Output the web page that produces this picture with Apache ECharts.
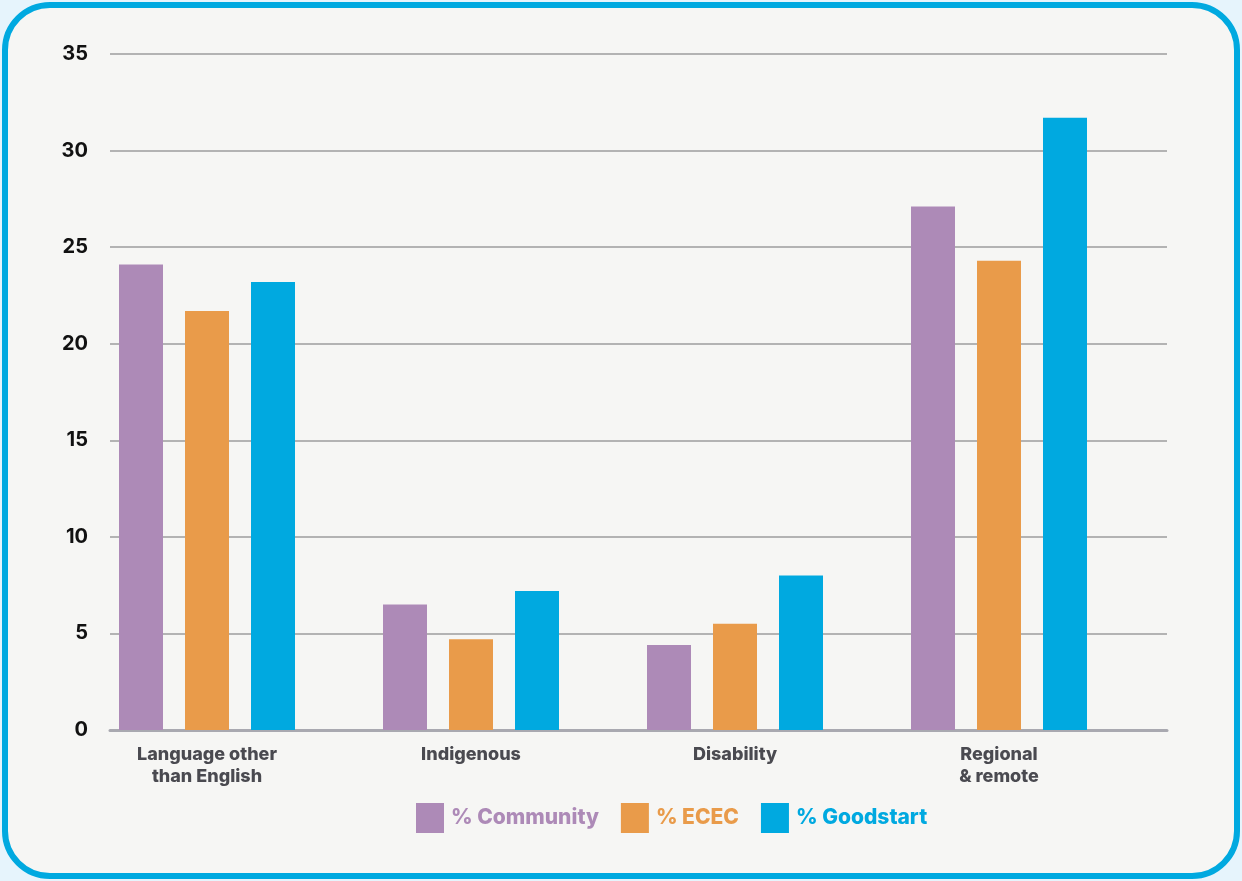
<!DOCTYPE html>
<html>
<head>
<meta charset="utf-8">
<script src="https://cdn.jsdelivr.net/npm/echarts@6/dist/echarts.min.js"></script>
<style>
  html, body { margin: 0; padding: 0; background: #e6f4fc; }
  #chart { width: 1242px; height: 881px; }
</style>
</head>
<body>
<div id="chart"></div>
<script>
var categories = ['Language other\nthan English', 'Indigenous', 'Disability', 'Regional\n& remote'];
var seriesNames = ['% Community', '% ECEC', '% Goodstart'];
var community = [24.1, 6.5, 4.4, 27.1];
var ecec = [21.7, 4.7, 5.5, 24.3];
var goodstart = [23.2, 7.2, 8.0, 31.7];
var colors = ['#ad8ab7', '#e99b4a', '#00a9e0'];

var chart = echarts.init(document.getElementById('chart'));
var font = 'Inter, "Open Sans", sans-serif';

function barSeries(name, data, color) {
  return {
    name: name,
    type: 'bar',
    xAxisIndex: 1,
    yAxisIndex: 1,
    data: data,
    barWidth: 44,
    barGap: '50%',
    itemStyle: { color: color },
    z: 3
  };
}

var option = {
  backgroundColor: '#e6f4fc',
  animation: false,
  graphic: [{
    type: 'rect',
    shape: { x: 5, y: 5, width: 1232, height: 871, r: 45 },
    style: { fill: '#f6f6f4', stroke: '#00a9e0', lineWidth: 6 },
    z: -10
  }],
  grid: [
    { left: 110, right: 75, top: 54, bottom: 151 },
    { left: 75, right: 111, top: 54, bottom: 151 }
  ],
  legend: {
    top: 803,
    left: 416,
    padding: 0,
    itemWidth: 28,
    itemHeight: 30,
    itemGap: 22,
    icon: 'rect',
    data: seriesNames.map(function (n, i) {
      return { name: n, textStyle: { color: colors[i] } };
    }),
    textStyle: { fontFamily: font, fontWeight: 800, fontSize: 21, padding: [2, 0, 0, 2] }
  },
  xAxis: [
    {
      type: 'value', gridIndex: 0, min: 0, max: 1,
      axisLine: { show: true, onZero: false, lineStyle: { color: '#a9a9b0', width: 3 } },
      axisTick: { show: false }, axisLabel: { show: false }, splitLine: { show: false }
    },
    {
      type: 'category', gridIndex: 1, data: categories,
      axisLine: { show: false }, axisTick: { show: false },
      axisLabel: {
        margin: 14, fontFamily: font, fontWeight: 800, fontSize: 18,
        color: '#4a4a50', lineHeight: 22
      }
    }
  ],
  yAxis: [
    {
      type: 'value', gridIndex: 0, min: 0, max: 35, interval: 5,
      axisLine: { show: false }, axisTick: { show: false },
      axisLabel: { margin: 22, fontFamily: font, fontWeight: 700, fontSize: 20, color: '#111' },
      splitLine: { lineStyle: { color: '#b3b3b3', width: 2 } }
    },
    {
      type: 'value', gridIndex: 1, min: 0, max: 35, interval: 5, show: false,
      splitLine: { show: false }
    }
  ],
  series: [
    barSeries(seriesNames[0], community, colors[0]),
    barSeries(seriesNames[1], ecec, colors[1]),
    barSeries(seriesNames[2], goodstart, colors[2])
  ]
};

chart.setOption(option);
</script>
</body>
</html>
